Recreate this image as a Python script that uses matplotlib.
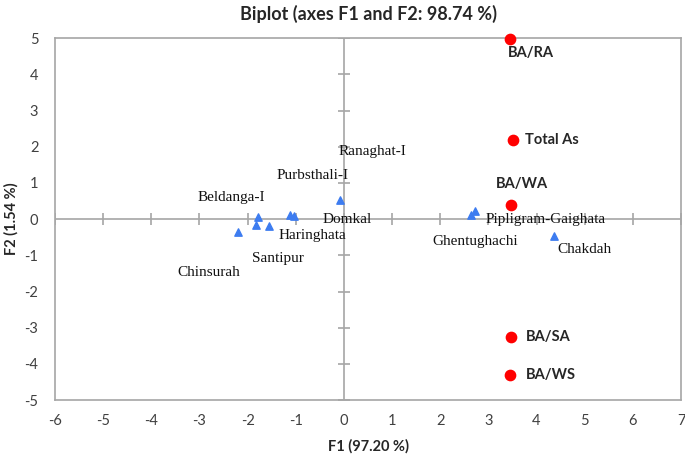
import numpy as np
import matplotlib.pyplot as plt

plt.rcParams['font.family'] = ['Lato', 'DejaVu Sans']
plt.rcParams['axes.unicode_minus'] = False

# observations (sites)
sites = ['Ranaghat-I', 'Purbsthali-I', 'Beldanga-I', 'Domkal', 'Haringhata',
         'Santipur', 'Chinsurah', 'Pipligram-Gaighata', 'Ghentughachi', 'Chakdah']
site_x = [-0.09, -1.03, -1.79, -1.12, -1.56, -1.83, -2.20, 2.73, 2.64, 4.37]
site_y = [0.54, 0.10, 0.05, 0.12, -0.20, -0.17, -0.36, 0.23, 0.12, -0.46]
site_lab_x = [0.59, -0.66, -2.33, 0.07, -0.65, -1.37, -2.81, 4.18, 2.73, 4.99]
site_lab_y = [1.86, 1.22, 0.59, -0.02, -0.46, -1.09, -1.48, -0.02, -0.62, -0.85]

# variables
variables = ['BA/RA', 'Total As', 'BA/WA', 'BA/SA', 'BA/WS']
var_x = [3.45, 3.51, 3.47, 3.47, 3.45]
var_y = [4.99, 2.20, 0.40, -3.27, -4.30]
var_lab_x = [3.40, 3.77, 3.16, 3.77, 3.77]
var_lab_y = [4.60, 2.20, 0.97, -3.27, -4.30]

fig = plt.figure(figsize=(6.85, 4.66), dpi=100)
ax = fig.add_axes([0.0803, 0.1416, 0.9139, 0.7762])

grey = '#a6a6a6'
ax.set_xlim(-6, 7)
ax.set_ylim(-5, 5)
for s in ax.spines.values():
    s.set_color(grey)
    s.set_linewidth(1.2)

ax.set_xticks(range(-6, 8))
ax.set_yticks(range(-5, 6))
ax.tick_params(length=0, labelsize=10.5, colors='#404040', pad=10)
ax.tick_params(axis='y', pad=12)

# centre axes with cross ticks
ax.axhline(0, color=grey, lw=1.2, zorder=1)
ax.axvline(0, color=grey, lw=1.2, zorder=1)
ax.plot(range(-6, 8), [0] * 14, ls='none', marker='|', ms=9, mew=1.2, color=grey, zorder=1)
ax.plot([0] * 11, range(-5, 6), ls='none', marker='_', ms=9, mew=1.2, color=grey, zorder=1)

ax.scatter(site_x, site_y, marker='^', s=28, color='#3d7cf0', zorder=3, clip_on=False)
ax.scatter(var_x, var_y, marker='o', s=55, color='#ff0000', zorder=3, clip_on=False)

for name, x, y in zip(sites, site_lab_x, site_lab_y):
    ax.text(x, y, name, family='Liberation Serif', fontsize=11,
            ha='center', va='center', color='#111111', zorder=4)

for name, x, y in zip(variables, var_lab_x, var_lab_y):
    ax.text(x, y, name, fontsize=10.5, fontweight='bold', ha='left', va='center',
            color='#262626', zorder=4)

ax.set_title('Biplot (axes F1 and F2: 98.74 %)', fontsize=13, fontweight='bold',
             color='#262626', pad=13)
ax.set_xlabel('F1 (97.20 %)', fontsize=10.5, fontweight='bold', color='#262626', labelpad=8)
ax.set_ylabel('F2 (1.54 %)', fontsize=10.5, fontweight='bold', color='#262626', labelpad=4)

fig.savefig('out.png', dpi=100)
